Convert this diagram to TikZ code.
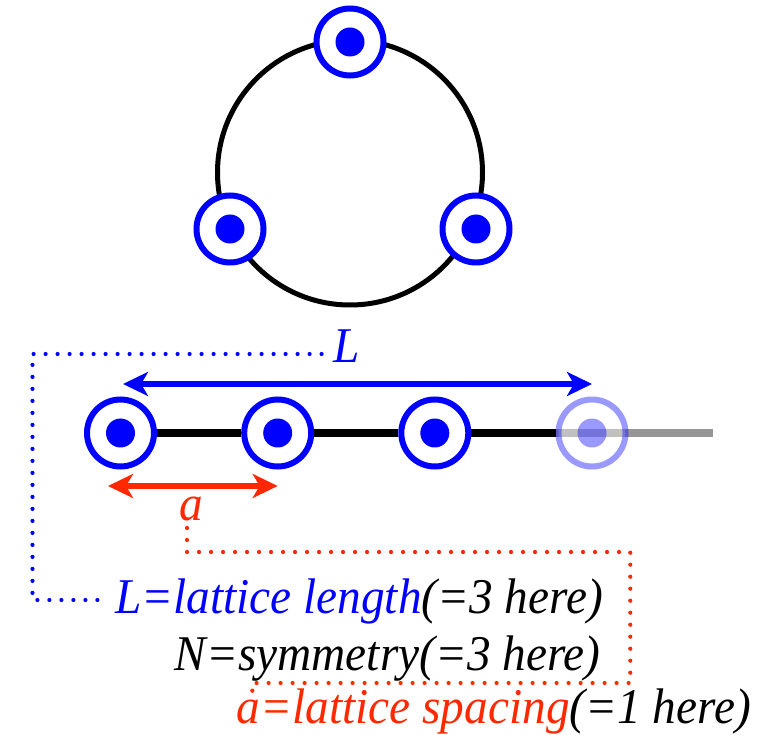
\documentclass[tikz,border=0pt]{standalone}
\usepackage{fontspec}
\newfontfamily\labelfont{LiberationSerif-Italic}[Extension=.ttf,FakeStretch=0.946]
\usetikzlibrary{arrows.meta}
\definecolor{myblue}{rgb}{0,0,1}
\definecolor{myred}{RGB}{255,40,0}
\definecolor{mygray}{RGB}{150,150,150}
\begin{document}
\begin{tikzpicture}[x=1pt,y=-1pt,
  site/.style={circle,draw=myblue,fill=white,line width=6pt,minimum size=67pt,inner sep=0pt},
  ghost/.style={site,draw opacity=0.4,fill opacity=0.4},
  dotc/.style={fill=myblue},
  ringline/.style={draw=black,line width=5pt},
  chainline/.style={draw=black,line width=7.5pt},
  grayline/.style={draw=mygray,line width=7.5pt},
  dimarrow/.style={line width=6pt,{Stealth[length=25pt,width=24pt,inset=7pt]}-{Stealth[length=25pt,width=24pt,inset=7pt]}},
  txt/.style={inner sep=0pt,font=\labelfont\fontsize{50}{52}\selectfont},
  dots/.style={line width=4.2pt,line cap=round,dash pattern=on 0pt off 12pt},
]
\useasboundingbox (0,0) rectangle (761,735);

% ring
\coordinate (rc) at (350,172.5);
\draw[ringline] (rc) circle[radius=132.5pt];
\node[site] (r1) at (350,42) {};
\node[site] (r2) at (230,229) {};
\node[site] (r3) at (476,229) {};

% chain
\coordinate (c4) at (592,433);
\coordinate (gstart) at (555,433);
\coordinate (gend) at (713,433);
\draw[grayline] (gstart) -- (gend);
\node[site] (n1) at (120.5,433) {};
\node[site] (n2) at (277.7,433) {};
\node[site] (n3) at (434.8,433) {};
\node[ghost] (n4) at (c4) {};
\draw[chainline] (n1) -- (n2);
\draw[chainline] (n2) -- (n3);
\draw[chainline] (n3) -- (n4);

\foreach \n in {r1,r2,r3,n1,n2,n3} \fill[dotc] (\n.center) circle[radius=14.5pt];
\fill[dotc,opacity=0.4] (n4.center) circle[radius=14.5pt];

% dimension arrows
\draw[dimarrow,draw=myblue,fill=myblue] ([xshift=2.5pt,yshift=49pt]n1.center) -- ([yshift=49pt]n4.center);
\draw[dimarrow,draw=myred,fill=myred] ([xshift=-12.5pt,yshift=-53pt]n1.center) -- ([yshift=-53pt]n2.center);

% labels
\node[txt,anchor=base west,text=myblue] (Llab) at (333.6,362.7) {L};
\node[txt,anchor=base west,text=myred] (alab) at (179,520) {a};

\node[txt,anchor=base west] (t1) at (115,613) {\textcolor{myblue}{L=lattice length}(=3 here)};
\node[txt,anchor=base west] (t2) at (174.6,670) {N=symmetry(=3 here)};
\node[txt,anchor=base west] (t3) at (236.7,723) {\textcolor{myred}{a=lattice spacing}(=1 here)};

% dotted leaders
\coordinate (cb) at (32.5,600);
\draw[dots,draw=myblue] ([xshift=-12pt,yshift=8.7pt]Llab.base west) -| (cb) -- ([xshift=-15pt,yshift=13pt]t1.base west);
\coordinate (cr1) at (630.3,552);
\coordinate (cr2) at (252.3,683);
\draw[dots,draw=myred] ([xshift=8pt,yshift=-8pt]alab.base west) |- (cr1) |- (cr2) -- ([xshift=15.6pt,yshift=29pt]t3.base west);
\end{tikzpicture}
\end{document}
